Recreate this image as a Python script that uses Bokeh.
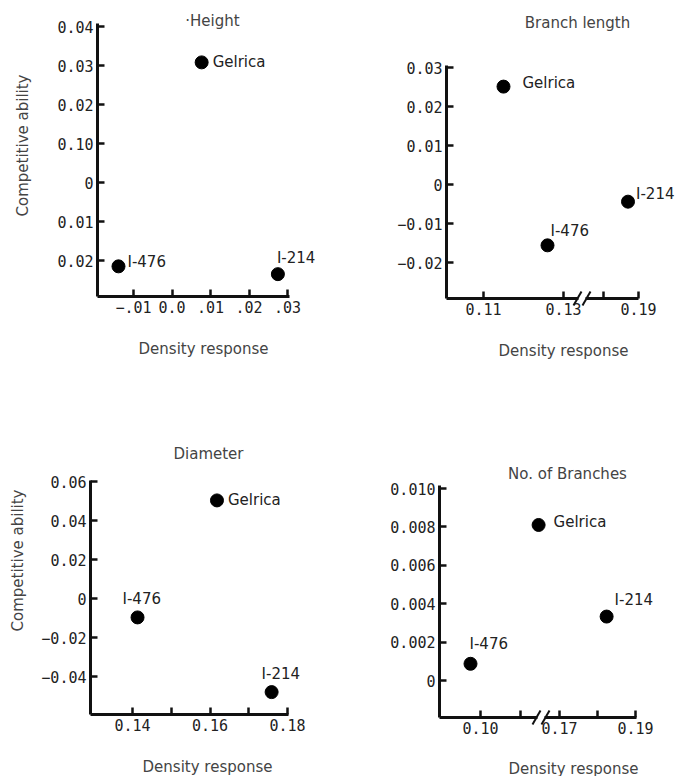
import math
from bokeh.plotting import figure
from bokeh.layouts import column, row
from bokeh.models import Range1d, FixedTicker, Label, Arrow
from bokeh.embed import file_html
from bokeh.resources import INLINE

# ---------------- data ----------------
genotypes = ["Gelrica", "I-476", "I-214"]

height_density = [0.0077, -0.0139, 0.0275]
height_competitive = [0.0308, -0.0215, -0.0235]

branch_density = [0.115, 0.126, 0.187]
branch_competitive = [0.0251, -0.0156, -0.0044]

diameter_density = [0.1618, 0.1413, 0.1759]
diameter_competitive = [0.0503, -0.0097, -0.048]

nbranch_density = [0.1645, 0.0975, 0.1824]
nbranch_competitive = [0.0081, 0.00087, 0.00333]

height_x_ticks = [-0.01, 0.0, 0.01, 0.02, 0.03]
height_x_labels = ["\u2212.01", "0.0", ".01", ".02", ".03"]
height_y_ticks = [0.04, 0.03, 0.02, 0.01, 0.0, -0.01, -0.02]
height_y_labels = ["0.04", "0.03", "0.02", "0.10", "0", "0.01", "0.02"]

branch_x_ticks = [0.11, 0.13, 0.18, 0.19]
branch_x_labels = ["0.11", "0.13", "", "0.19"]
branch_y_ticks = [0.03, 0.02, 0.01, 0.0, -0.01, -0.02]
branch_y_labels = ["0.03", "0.02", "0.01", "0", "\u22120.01", "\u22120.02"]

diameter_x_ticks = [0.14, 0.15, 0.16, 0.17, 0.18]
diameter_x_labels = ["0.14", "", "0.16", "", "0.18"]
diameter_y_ticks = [0.06, 0.04, 0.02, 0.0, -0.02, -0.04]
diameter_y_labels = ["0.06", "0.04", "0.02", "0", "\u22120.02", "\u22120.04"]

nbranch_x_ticks = [0.10, 0.11, 0.17, 0.18, 0.19]
nbranch_x_labels = ["0.10", "", "0.17", "", "0.19"]
nbranch_y_ticks = [0.010, 0.008, 0.006, 0.004, 0.002, 0.0]
nbranch_y_labels = ["0.010", "0.008", "0.006", "0.004", "0.002", "0"]

# ---------------- styling helpers ----------------
LABEL_FONT = "DejaVu Sans"
TICK_FONT = "DejaVu Sans Mono"
INK = "#111111"
TITLE_C = "#444444"


def identity(v):
    return v


def broken(cut, u_ref, x_ref, ratio):
    # piecewise x transform for an axis with a break ("//")
    def f(v):
        return v if v <= cut else u_ref + (v - x_ref) * ratio
    return f


class Panel:
    def __init__(self, origin, size, axis_pos, xcal, ycal, xfun=identity):
        self.ox, self.oy = origin
        self.w, self.h = size
        self.AX, self.AY = axis_pos          # page x of y-axis, page y of x-axis
        self.xcal, self.ycal, self.xfun = xcal, ycal, xfun
        p = figure(width=self.w, height=self.h,
                   x_range=Range1d(self.vx(self.ox), self.vx(self.ox + self.w)),
                   y_range=Range1d(self.vy(self.oy + self.h), self.vy(self.oy)),
                   min_border_left=0, min_border_right=0,
                   min_border_top=0, min_border_bottom=0,
                   output_backend="svg", toolbar_location=None, tools="",
                   title=None)
        p.outline_line_color = None
        p.grid.visible = False
        p.background_fill_color = "white"
        p.border_fill_color = "white"
        p.xaxis.fixed_location = self.vy(self.AY)
        p.yaxis.fixed_location = self.vx(self.AX)
        for ax in (p.xaxis[0], p.yaxis[0]):
            ax.axis_line_width = 3
            ax.axis_line_color = INK
            ax.major_tick_in = 7
            ax.major_tick_out = 0
            ax.major_tick_line_width = 2.5
            ax.major_tick_line_color = INK
            ax.minor_tick_line_color = None
            ax.major_label_text_font = TICK_FONT
            ax.major_label_text_font_size = "15px"
            ax.major_label_text_color = "#222222"
            ax.major_label_standoff = 4
        self.p = p

    # page pixel <-> data conversions
    def vx(self, px):
        return self.xcal[1] + (px - self.xcal[0]) / self.xcal[2]

    def vy(self, py):
        return self.ycal[1] - (py - self.ycal[0]) / self.ycal[2]

    def px(self, u):
        return self.xcal[0] + (u - self.xcal[1]) * self.xcal[2]

    def py(self, v):
        return self.ycal[0] - (v - self.ycal[1]) * self.ycal[2]

    def axes(self, xt, xl, yt, yl, x_end_px, y_top_px):
        p = self.p
        xu = [self.xfun(t) for t in xt]
        p.xaxis.ticker = FixedTicker(ticks=xu)
        p.xaxis.major_label_overrides = {u: s for u, s in zip(xu, xl)}
        p.yaxis.ticker = FixedTicker(ticks=list(yt))
        p.yaxis.major_label_overrides = {t: s for t, s in zip(yt, yl)}
        p.xaxis.bounds = (self.vx(self.AX), self.vx(x_end_px))
        p.yaxis.bounds = (self.vy(self.AY), self.vy(y_top_px))

    def text(self, px, py, s, size="15px", color="#222222", align="left",
             baseline="middle", angle=0.0, font=LABEL_FONT):
        self.p.add_layout(Label(x=self.vx(px), y=self.vy(py), text=s,
                                text_font=font, text_font_size=size,
                                text_color=color, text_align=align,
                                text_baseline=baseline, angle=angle))

    def points(self, xs, ys, names, offsets):
        us = [self.xfun(v) for v in xs]
        self.p.scatter(x=us, y=ys, size=13, color="black")
        for u, v, n, (dx, dy) in zip(us, ys, names, offsets):
            self.text(self.px(u) + dx, self.py(v) + dy, n)

    def axis_break(self, c1, c2):
        y0 = self.AY
        self.p.add_layout(Arrow(end=None, x_start=self.vx(c1 + 1), y_start=self.vy(y0),
                                x_end=self.vx(c2 - 1), y_end=self.vy(y0),
                                line_color="white", line_width=8))
        for c in (c1, c2):
            self.p.add_layout(Arrow(end=None, x_start=self.vx(c - 4), y_start=self.vy(y0 + 7),
                                    x_end=self.vx(c + 4), y_end=self.vy(y0 - 7),
                                    line_color=INK, line_width=2))


# ---------------- panel 1 : Height ----------------
P1 = Panel((0, 0), (340, 370), (97, 296), (171.5, 0.0, 3850), (182, 0.0, 3900))
P1.axes(height_x_ticks, height_x_labels, height_y_ticks, height_y_labels, 289, 23)
P1.points(height_density, height_competitive, genotypes, [(11, 0), (9, -4), (-1, -16)])
P1.text(212, 20, "\u00b7Height", color=TITLE_C, align="center")
P1.text(203, 348, "Density response", color=TITLE_C, align="center")
P1.text(22, 145, "Competitive ability", color=TITLE_C, align="center", angle=math.pi / 2)

# ---------------- panel 2 : Branch length ----------------
P2 = Panel((340, 0), (341, 370), (446, 298), (483, 0.11, 4000), (184, 0.0, 3900),
           xfun=broken(0.15, 0.14, 0.18, 0.875))
P2.axes(branch_x_ticks, branch_x_labels, branch_y_ticks, branch_y_labels, 638, 65)
P2.points(branch_density, branch_competitive, genotypes, [(19, -4), (3, -14), (8, -8)])
P2.axis_break(577, 586)
P2.text(577, 22, "Branch length", color=TITLE_C, align="center")
P2.text(563, 350, "Density response", color=TITLE_C, align="center")

# ---------------- panel 3 : Diameter ----------------
P3 = Panel((0, 370), (340, 406), (90, 714), (132, 0.14, 3875), (598, 0.0, 1950))
P3.axes(diameter_x_ticks, diameter_x_labels, diameter_y_ticks, diameter_y_labels, 288, 480)
P3.points(diameter_density, diameter_competitive, genotypes, [(11, 0), (-15, -18), (-10, -18)])
P3.text(208, 453, "Diameter", color=TITLE_C, align="center")
P3.text(207, 766, "Density response", color=TITLE_C, align="center")
P3.text(17, 560, "Competitive ability", color=TITLE_C, align="center", angle=math.pi / 2)

# ---------------- panel 4 : No. of Branches ----------------
P4 = Panel((340, 370), (341, 406), (439, 717), (480, 0.10, 4000), (680, 0.0, 19200),
           xfun=broken(0.14, 0.11975, 0.17, 0.95))
P4.axes(nbranch_x_ticks, nbranch_x_labels, nbranch_y_ticks, nbranch_y_labels, 636, 485)
P4.points(nbranch_density, nbranch_competitive, genotypes, [(15, -3), (-1, -20), (8, -17)])
P4.axis_break(536, 545)
P4.text(567, 473, "No. of Branches", color=TITLE_C, align="center")
P4.text(573, 768, "Density response", color=TITLE_C, align="center")

layout = column(row(P1.p, P2.p), row(P3.p, P4.p))

with open("out.html", "w") as f:
    f.write(file_html(layout, INLINE, title="Density response vs competitive ability"))
